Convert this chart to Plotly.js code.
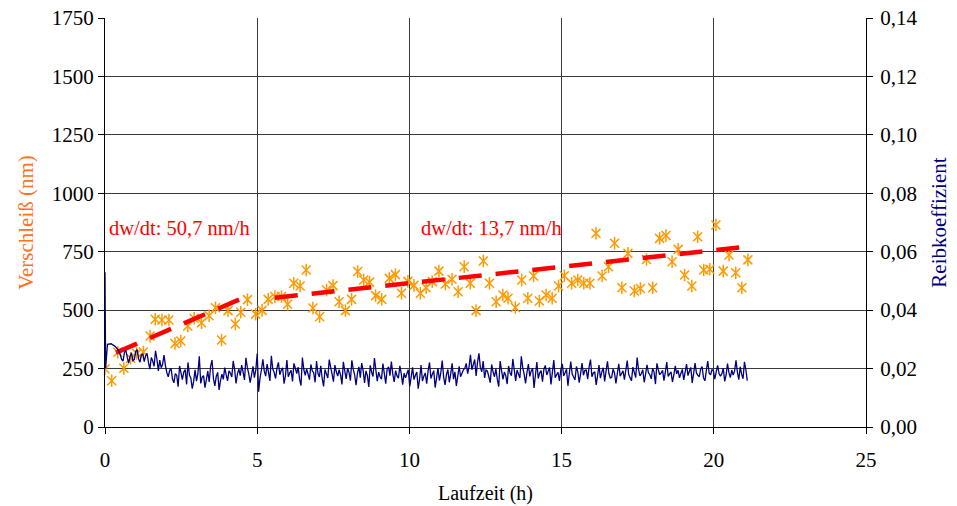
<!DOCTYPE html>
<html>
<head>
<meta charset="utf-8">
<script src="https://cdn.plot.ly/plotly-3.0.1.min.js"></script>
<style>html,body{margin:0;padding:0;background:#fff}#chart{width:957px;height:506px}</style>
</head>
<body>
<div id="chart"></div>
<script>
// Verschleiß (wear) measurements, nm
const wearTime = [0, 0.22, 0.42, 0.62, 0.84, 1.04, 1.26, 1.48, 1.65, 1.87, 2.1, 2.3, 2.49, 2.72, 2.93, 3.17, 3.42, 3.63, 3.83, 4.04, 4.28, 4.46, 4.68, 4.95,
  5.16, 5.36, 5.58, 5.8, 6.0, 6.2, 6.41, 6.61, 6.83, 7.05, 7.28, 7.49, 7.69, 7.9, 8.1, 8.3, 8.5, 8.69, 8.89, 9.09, 9.34, 9.54, 9.74, 9.95, 10.15, 10.36,
  10.55, 10.75, 10.97, 11.18, 11.4, 11.6, 11.8, 12.0, 12.19, 12.43, 12.63, 12.85, 13.07, 13.24, 13.48, 13.69, 13.89, 14.08, 14.27, 14.49, 14.69, 14.9, 15.09, 15.33, 15.53,
  15.73, 15.93, 16.13, 16.33, 16.54, 16.74, 16.98, 17.18, 17.39, 17.59, 17.79, 17.99, 18.22, 18.43, 18.63, 18.83, 19.04, 19.28, 19.47, 19.67, 19.87, 20.07, 20.31, 20.5, 20.72, 20.92, 21.12];
const wearNm = [248, 198, 320, 251, 294, 315, 321, 389, 461, 458, 458, 357, 368, 432, 465, 446, 476, 510, 372, 498, 441, 491, 545, 483,
  499, 546, 558, 558, 525, 615, 603, 672, 509, 472, 586, 605, 536, 498, 546, 665, 629, 620, 562, 546, 636, 652, 572, 623, 606, 572,
  596, 622, 667, 612, 632, 579, 686, 615, 498, 710, 615, 536, 565, 551, 511, 629, 551, 646, 539, 565, 551, 603, 647, 615, 629,
  615, 615, 829, 646, 686, 786, 596, 743, 582, 593, 717, 596, 807, 819, 707, 760, 650, 603, 814, 672, 675, 864, 667, 736, 660, 596, 715];

// linear fits
const fit1Time = [0.36, 4.81];
const fit1Nm = [318, 568];
const fit2Time = [5.58, 20.92];
const fit2Nm = [553, 769];
const fit1Label = 'dw/dt: 50,7 nm/h';
const fit2Label = 'dw/dt: 13,7 nm/h';

// Reibkoeffizient (friction coefficient)
const frictionStartTime = [0, 0.02, 0.08, 0.2, 0.33, 0.45];
const frictionStart = [0.053, 0.020, 0.0283, 0.0285, 0.0276, 0.0262];
const frictionT0 = 0.5, frictionT1 = 21.1; // uniformly sampled record between these times
const frictionRecord = [
  0.0248, 0.0231, 0.0226, 0.0255, 0.0262, 0.0238, 0.0219, 0.0242, 0.0254, 0.0227, 0.0231, 0.0259, 0.0265, 0.0233, 0.0222, 0.0247, 0.0249, 0.0224, 0.0244,
  0.0252, 0.0221, 0.0198, 0.0238, 0.0226, 0.0208, 0.0261, 0.0232, 0.0192, 0.0229, 0.0203, 0.0214, 0.0246, 0.0211, 0.0186,
  0.0172, 0.0193, 0.0201, 0.0164, 0.0151, 0.0183, 0.0177, 0.0138, 0.0209, 0.0186,
  0.0162, 0.0188, 0.0197, 0.0146, 0.0221, 0.0178, 0.0168, 0.0131, 0.0156, 0.0196,
  0.0157, 0.0183, 0.0242, 0.0149, 0.0171, 0.0176, 0.0135, 0.0162, 0.0191, 0.0154,
  0.0208, 0.0229, 0.0166, 0.0141, 0.0173, 0.0187, 0.0127, 0.0159, 0.0181, 0.0163,
  0.0203, 0.0179, 0.0158, 0.0192, 0.0185, 0.0171, 0.0226, 0.0197, 0.0149, 0.0182,
  0.0198, 0.0176, 0.0212, 0.0188, 0.0161, 0.0237, 0.0204, 0.0183, 0.0152, 0.0178,
  0.0208, 0.0169, 0.0195, 0.0251, 0.0121, 0.0168, 0.0196, 0.0232, 0.0191, 0.0174,
  0.0215, 0.0187, 0.0158, 0.0244, 0.0199, 0.0187, 0.0166, 0.0202, 0.0221, 0.0179,
  0.0194, 0.0203, 0.0148, 0.0176, 0.0229, 0.0172, 0.0185, 0.0194, 0.0156, 0.0218,
  0.0201, 0.0183, 0.0205, 0.0163, 0.0142, 0.0238, 0.0196, 0.0177, 0.0199, 0.0181,
  0.0162, 0.0214, 0.0192, 0.0186, 0.0153, 0.0226, 0.0184, 0.0171, 0.0209, 0.0166,
  0.0139, 0.0197, 0.0182, 0.0168, 0.0231, 0.0205, 0.0181, 0.0155, 0.0212, 0.0189,
  0.0174, 0.0196, 0.0178, 0.0146, 0.0223, 0.0191, 0.0165, 0.0201, 0.0187, 0.0159,
  0.0228, 0.0198, 0.0178, 0.0143, 0.0185, 0.0206, 0.0169, 0.0219, 0.0193, 0.0151,
  0.0192, 0.0176, 0.0137, 0.0211, 0.0188, 0.0173, 0.0236, 0.0195, 0.0157, 0.0188,
  0.0172, 0.0164, 0.0217, 0.0183, 0.0148, 0.0199, 0.0206, 0.0176, 0.0224, 0.0181,
  0.0154, 0.0193, 0.0175, 0.0167, 0.0209, 0.0182, 0.0145, 0.0184,
  0.0168, 0.0183, 0.0196, 0.0139, 0.0171, 0.0204, 0.0162, 0.0177, 0.0188, 0.0131,
  0.0165, 0.0212, 0.0157, 0.0174, 0.0185, 0.0148, 0.0192, 0.0221, 0.0166, 0.0181,
  0.0193, 0.0135, 0.0168, 0.0202, 0.0159, 0.0186, 0.0227, 0.0171, 0.0144, 0.0179,
  0.0197, 0.0153, 0.0182, 0.0218, 0.0164, 0.0189, 0.0141, 0.0173, 0.0208, 0.0172,
  0.0184, 0.0196, 0.0201,
  0.0218, 0.0183, 0.0206, 0.0247, 0.0196, 0.0214, 0.0231, 0.0175, 0.0222, 0.0252, 0.0204, 0.0189, 0.0226, 0.0168, 0.0195,
  0.0191, 0.0172, 0.0152, 0.0214, 0.0188, 0.0172, 0.0199, 0.0163, 0.0138, 0.0226,
  0.0194, 0.0163, 0.0188, 0.0176, 0.0147, 0.0209, 0.0185, 0.0176, 0.0233, 0.0196,
  0.0158, 0.0195, 0.0181, 0.0168, 0.0242, 0.0203, 0.0181, 0.0149, 0.0187, 0.0215,
  0.0173, 0.0192, 0.0201, 0.0134, 0.0178, 0.0222, 0.0166, 0.0185, 0.0193, 0.0155,
  0.0198, 0.0211, 0.0178, 0.0191, 0.0204, 0.0146, 0.0188, 0.0229, 0.0169, 0.0179,
  0.0187, 0.0158, 0.0197, 0.0216, 0.0175, 0.0186, 0.0198, 0.0141, 0.0183, 0.0224,
  0.0182, 0.0171, 0.0161, 0.0207, 0.0189, 0.0152, 0.0183, 0.0219, 0.0177, 0.0194,
  0.0195, 0.0164, 0.0206, 0.0231, 0.0172, 0.0185, 0.0189, 0.0144, 0.0176, 0.0212,
  0.0167, 0.0188, 0.0203, 0.0156, 0.0191, 0.0225, 0.0183, 0.0168, 0.0171, 0.0198,
  0.0185, 0.0149, 0.0184, 0.0216, 0.0174, 0.0183, 0.0192, 0.0162, 0.0195, 0.0227,
  0.0181, 0.0169, 0.0158, 0.0205, 0.0187, 0.0169, 0.0238, 0.0197, 0.0175, 0.0183,
  0.0196, 0.0153, 0.0181, 0.0213, 0.0186, 0.0179, 0.0165, 0.0201, 0.0188, 0.0147,
  0.0218, 0.0196, 0.0179, 0.0185, 0.0194, 0.0159, 0.0189, 0.0222, 0.0173, 0.0182,
  0.0189, 0.0154, 0.0178, 0.0209, 0.0182, 0.0194, 0.0168, 0.0184, 0.0197, 0.0161,
  0.0188, 0.0215, 0.0176, 0.0191, 0.0204, 0.0151, 0.0183, 0.0219, 0.0185, 0.0177,
  0.0172, 0.0199, 0.0207, 0.0168, 0.0158, 0.0193, 0.0226, 0.0184, 0.0179, 0.0196,
  0.0193, 0.0164, 0.0189, 0.0211, 0.0183, 0.0174, 0.0182, 0.0201, 0.0156, 0.0178,
  0.0217, 0.0186, 0.0169, 0.0195, 0.0178, 0.0191, 0.0228, 0.0187, 0.0162, 0.0206,
  0.0181, 0.0165, 0.0223, 0.0196, 0.0159
];

const xTitle = 'Laufzeit (h)';
const yTitle = 'Verschleiß (nm)';
const y2Title = 'Reibkoeffizient';

// build friction time axis (uniform sampling)
const frictionTime = frictionStartTime.slice();
const frictionVal = frictionStart.slice();
const dt = (frictionT1 - frictionT0) / (frictionRecord.length - 1);
frictionRecord.forEach((v, i) => { frictionTime.push(frictionT0 + i * dt); frictionVal.push(v); });

const FONT = 'Liberation Serif, Times New Roman, serif';
const ORANGE = '#FF9900';
const NAVY = '#000080';

const markerStyle = sym => ({symbol: sym, size: 9, color: ORANGE, line: {color: ORANGE, width: 1.5}});

const traces = [
  {x: frictionTime, y: frictionVal, type: 'scatter', mode: 'lines', yaxis: 'y2',
   line: {color: NAVY, width: 1.3, simplify: false}, hoverinfo: 'skip'},
  {x: wearTime, y: wearNm, type: 'scatter', mode: 'markers', marker: markerStyle('x-thin-open')},
  {x: wearTime, y: wearNm, type: 'scatter', mode: 'markers', marker: markerStyle('line-ns-open')},
  {x: fit1Time, y: fit1Nm, type: 'scatter', mode: 'lines', line: {color: '#FF0000', width: 4.5, dash: '23px,14px'}},
  {x: fit2Time, y: fit2Nm, type: 'scatter', mode: 'lines', line: {color: '#FF0000', width: 4.5, dash: '23px,14px'}}
];

const axisCommon = {
  showline: true, linecolor: '#000', linewidth: 1, mirror: false,
  ticks: 'outside', ticklen: 6, tickcolor: '#000', tickwidth: 1,
  showgrid: true, gridcolor: '#3a3a3a', gridwidth: 1, zeroline: false,
  tickfont: {family: FONT, size: 21, color: '#000'}
};

const layout = {
  width: 957, height: 506,
  margin: {l: 105, r: 91, t: 18, b: 79},
  paper_bgcolor: '#fff', plot_bgcolor: '#fff',
  showlegend: false,
  separators: ', ',
  font: {family: FONT, color: '#000'},
  xaxis: Object.assign({}, axisCommon, {
    range: [0, 25], dtick: 5, tick0: 0, ticklabelstandoff: 8,
    title: {text: xTitle, font: {family: FONT, size: 20, color: '#000'}, standoff: 14}
  }),
  yaxis: Object.assign({}, axisCommon, {
    range: [0, 1750], dtick: 250, tick0: 0,
    title: {text: yTitle, font: {family: FONT, size: 21, color: '#FF7020'}, standoff: 12}
  }),
  yaxis2: Object.assign({}, axisCommon, {
    overlaying: 'y', side: 'right', showgrid: false, ticklabelstandoff: 3,
    range: [0, 0.14], dtick: 0.02, tick0: 0, tickformat: '.2f',
    title: {text: y2Title, font: {family: FONT, size: 21, color: NAVY}, standoff: 14}
  }),
  annotations: [
    {x: 0.07, y: 851, xref: 'x', yref: 'y', text: fit1Label, showarrow: false, xanchor: 'left', yanchor: 'middle',
     font: {family: FONT, size: 20.5, color: '#FF0000'}},
    {x: 10.3, y: 851, xref: 'x', yref: 'y', text: fit2Label, showarrow: false, xanchor: 'left', yanchor: 'middle',
     font: {family: FONT, size: 20.5, color: '#FF0000'}}
  ]
};

Plotly.newPlot('chart', traces, layout, {displayModeBar: false, staticPlot: true});
</script>
</body>
</html>
